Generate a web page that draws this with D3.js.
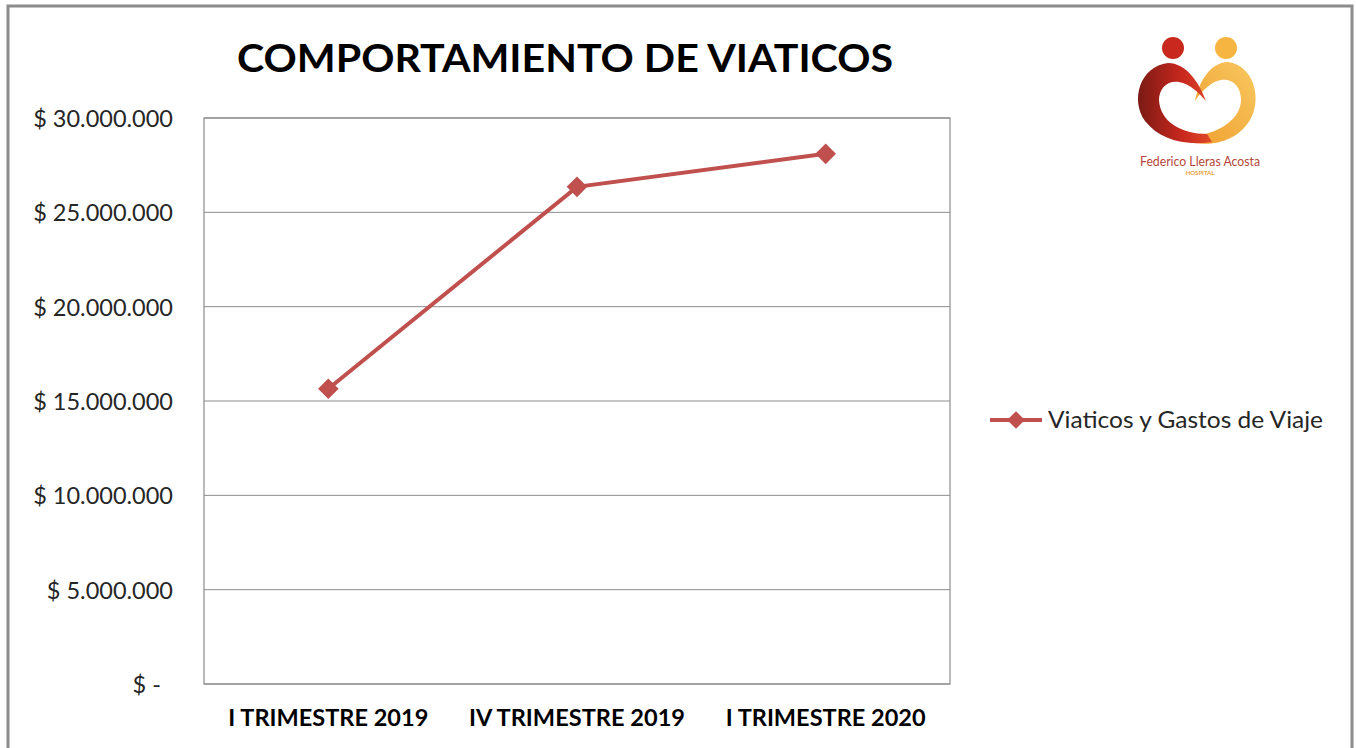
<!DOCTYPE html>
<html>
<head>
<meta charset="utf-8">
<script src="https://cdn.jsdelivr.net/npm/d3@7"></script>
<style>
  body { margin: 0; background: #fff; }
  svg text { font-family: Lato, "Open Sans", sans-serif; }
</style>
</head>
<body>
<div id="chart"></div>
<script>
// chart data
const categories = ["I TRIMESTRE 2019", "IV TRIMESTRE 2019", "I TRIMESTRE 2020"];
const values = [15650000, 26350000, 28100000];
const yTicks = [0, 5000000, 10000000, 15000000, 20000000, 25000000, 30000000];
const seriesName = "Viaticos y Gastos de Viaje";
const titleText = "COMPORTAMIENTO DE VIATICOS";

const W = 1356, H = 748;
const margin = {top: 118, right: 406, bottom: 64, left: 204};
const width = W - margin.left - margin.right;
const height = H - margin.top - margin.bottom;
const red = "#c0504d";

const svg = d3.select("#chart")
  .append("svg")
    .attr("width", W)
    .attr("height", H);

// outer frame
svg.append("rect")
  .attr("x", 8).attr("y", 6)
  .attr("width", 1344).attr("height", 760)
  .attr("fill", "none")
  .attr("stroke", "#8c8c8c")
  .attr("stroke-width", 3);

svg.append("text")
  .attr("x", 565).attr("y", 72)
  .attr("text-anchor", "middle")
  .attr("font-size", 38)
  .attr("font-weight", "bold")
  .attr("textLength", 656)
  .attr("lengthAdjust", "spacingAndGlyphs")
  .attr("fill", "#000")
  .text(titleText);

const g = svg.append("g")
  .attr("transform", "translate(" + margin.left + "," + margin.top + ")");

const x = d3.scaleBand()
  .domain(categories)
  .range([0, width]);

const y = d3.scaleLinear()
  .domain([0, 30000000])
  .range([height, 0]);

// gridlines
g.selectAll(".grid")
  .data(yTicks)
  .enter()
  .append("line")
    .attr("x1", 0).attr("x2", width)
    .attr("y1", d => y(d)).attr("y2", d => y(d))
    .attr("stroke", "#8c8c8c")
    .attr("stroke-width", 1);

g.append("rect")
  .attr("width", width).attr("height", height)
  .attr("fill", "none")
  .attr("stroke", "#8c8c8c")
  .attr("stroke-width", 1.2);

// y axis labels
const fmt = v => v === 0 ? "$ -" : "$ " + d3.format(",")(v).replace(/,/g, ".");
const yAxis = g.append("g")
  .call(d3.axisLeft(y).tickValues(yTicks).tickFormat(fmt).tickSize(0).tickPadding(31));
yAxis.select(".domain").remove();
yAxis.selectAll("text")
  .attr("font-size", 23.5)
  .attr("fill", "#262626")
  .attr("dy", "0.36em")
  .attr("dx", d => d === 0 ? -12 : 0);

// x axis labels
const xAxis = g.append("g")
  .attr("transform", "translate(0," + height + ")")
  .call(d3.axisBottom(x).tickSize(0).tickPadding(26));
xAxis.select(".domain").remove();
xAxis.selectAll("text")
  .attr("font-size", 22)
  .attr("font-weight", "bold")
  .attr("fill", "#000")
  .attr("textLength", d => d.startsWith("IV") ? 216 : 200)
  .attr("lengthAdjust", "spacingAndGlyphs");

// series line
const line = d3.line()
  .x((d, i) => x(categories[i]) + x.bandwidth() / 2)
  .y(d => y(d));

g.append("path")
  .datum(values)
  .attr("d", line)
  .attr("fill", "none")
  .attr("stroke", red)
  .attr("stroke-width", 4);

const diamond = d3.symbol().type(d3.symbolDiamond2).size(270);
g.selectAll(".marker")
  .data(values)
  .enter()
  .append("path")
    .attr("d", diamond)
    .attr("transform", (d, i) => "translate(" + (x(categories[i]) + x.bandwidth() / 2) + "," + y(d) + ")")
    .attr("fill", red);

// legend
const leg = svg.append("g").attr("transform", "translate(990,420)");
leg.append("line")
  .attr("x1", 0).attr("x2", 52)
  .attr("stroke", red).attr("stroke-width", 4);
leg.append("path")
  .attr("d", d3.symbol().type(d3.symbolDiamond2).size(200))
  .attr("transform", "translate(26,0)")
  .attr("fill", red);
leg.append("text")
  .attr("x", 58).attr("y", 8)
  .attr("font-size", 24)
  .attr("textLength", 275)
  .attr("lengthAdjust", "spacingAndGlyphs")
  .attr("fill", "#262626")
  .text(seriesName);

// logo
const defs = svg.append("defs");
const gr = defs.append("linearGradient").attr("id", "gRed").attr("x1", 0).attr("x2", 1).attr("y1", 0).attr("y2", 0);
gr.append("stop").attr("offset", "0%").attr("stop-color", "#7a1a14");
gr.append("stop").attr("offset", "60%").attr("stop-color", "#c8281e");
gr.append("stop").attr("offset", "100%").attr("stop-color", "#e04a2a");
const go = defs.append("linearGradient").attr("id", "gOr").attr("x1", 0).attr("x2", 1).attr("y1", 1).attr("y2", 0);
go.append("stop").attr("offset", "0%").attr("stop-color", "#f0a030");
go.append("stop").attr("offset", "100%").attr("stop-color", "#f8c860");

const logo = svg.append("g");
logo.append("path")
  .attr("d", "M1228,62 C1255,66 1262,100 1250,120 C1238,140 1215,146 1195,143 L1198,135 C1220,133 1241,118 1241,100 C1241,86 1232,78 1221,80 C1210,82 1201,92 1195,101 C1198,84 1210,62 1228,62 Z")
  .attr("fill", "url(#gOr)");
logo.append("path")
  .attr("d", "M1168,63 C1140,66 1130,100 1145,121 C1160,140 1185,146 1212,142 L1207,134 C1182,134 1160,122 1159,100 C1159,88 1168,80 1179,82 C1190,84 1198,92 1206,101 C1199,82 1186,63 1168,63 Z")
  .attr("fill", "url(#gRed)");
logo.append("circle").attr("cx", 1173).attr("cy", 48).attr("r", 11).attr("fill", "#c8281e");
logo.append("circle").attr("cx", 1226).attr("cy", 48).attr("r", 11).attr("fill", "#f5b540");
logo.append("text")
  .attr("x", 1200).attr("y", 166)
  .attr("text-anchor", "middle")
  .attr("font-size", 14)
  .attr("textLength", 120)
  .attr("lengthAdjust", "spacingAndGlyphs")
  .attr("fill", "#b5473a")
  .text("Federico Lleras Acosta");
logo.append("text")
  .attr("x", 1200).attr("y", 175)
  .attr("text-anchor", "middle")
  .attr("font-size", 6)
  .attr("font-weight", "bold")
  .attr("fill", "#e8a040")
  .text("HOSPITAL");
</script>
</body>
</html>
